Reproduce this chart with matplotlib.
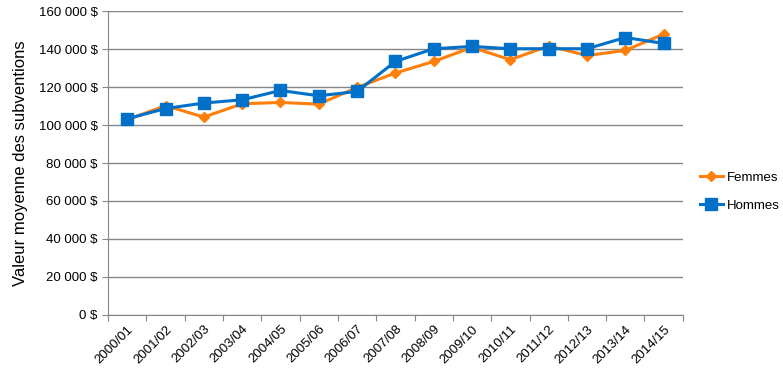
import matplotlib.pyplot as plt
import numpy as np
from matplotlib.ticker import FuncFormatter

years = ["2000/01", "2001/02", "2002/03", "2003/04", "2004/05", "2005/06", "2006/07",
         "2007/08", "2008/09", "2009/10", "2010/11", "2011/12", "2012/13", "2013/14", "2014/15"]
femmes = [102800, 110200, 104200, 111200, 111900, 111000, 119800,
          127400, 133500, 140900, 134400, 141700, 136600, 139300, 147900]
hommes = [103300, 108700, 111600, 113300, 118200, 115400, 117700,
          133500, 140200, 141400, 140200, 140200, 140200, 146100, 143000]

plt.rcParams['font.family'] = ['Liberation Sans', 'DejaVu Sans']

fig = plt.figure(figsize=(7.83, 3.84), dpi=100)
ax = fig.add_axes([0.138, 0.18, 0.734, 0.791])

x = np.arange(len(years))
ax.plot(x, femmes, color="#FF7F0A", lw=2.2, marker="D", ms=5.5, label="Femmes", zorder=3)
ax.plot(x, hommes, color="#0070C8", lw=2.2, marker="s", ms=8, label="Hommes", zorder=4)

ax.set_xlim(-0.5, len(years) - 0.5)
ax.set_ylim(0, 160000)
ax.set_yticks(np.arange(0, 160001, 20000))
ax.yaxis.set_major_formatter(FuncFormatter(lambda v, p: "{:,.0f} $".format(v).replace(",", " ")))
ax.grid(axis="y", color="#868686", lw=1)
ax.set_axisbelow(True)

# ticks at category boundaries, labels at centres
ax.set_xticks(np.arange(-0.5, len(years), 1))
ax.set_xticklabels([])
ax.set_xticks(x, minor=True)
ax.set_xticklabels(years, minor=True, rotation=45, ha="right", rotation_mode="anchor", fontsize=9.5)
ax.tick_params(axis="x", which="minor", length=0, pad=6)
ax.tick_params(axis="x", which="major", length=4, color="#868686")
ax.tick_params(axis="y", length=4, color="#868686", labelsize=9.5)

for s in ["top", "right"]:
    ax.spines[s].set_visible(False)
for s in ["left", "bottom"]:
    ax.spines[s].set_color("#868686")

ax.set_ylabel("Valeur moyenne des subventions", fontsize=12, labelpad=8)

ax.legend(loc="center left", bbox_to_anchor=(1.02, 0.405), borderaxespad=0, frameon=False,
          fontsize=9.5, handlelength=1.8, labelspacing=1.2, handletextpad=0.3)

fig.savefig("out.png", dpi=100)
